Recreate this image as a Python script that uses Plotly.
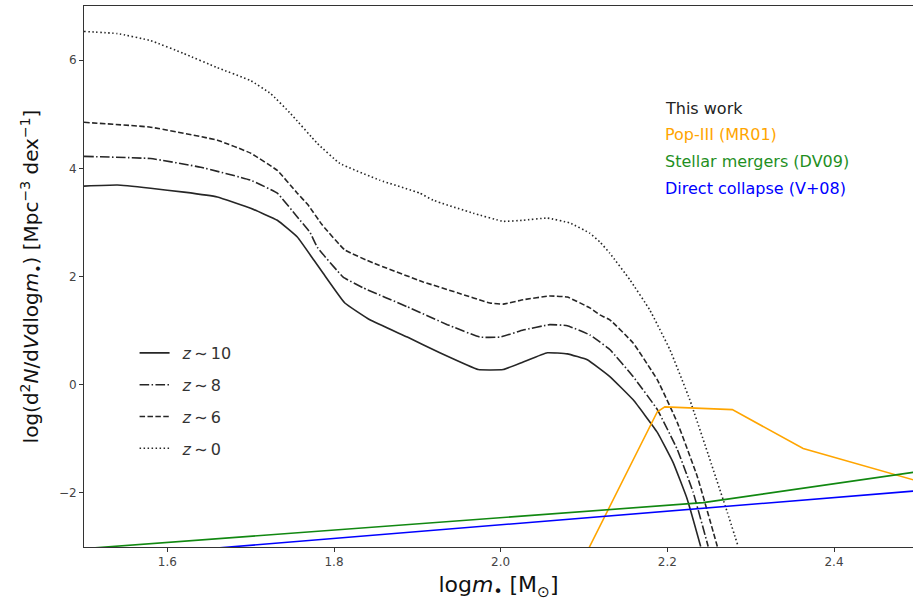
import plotly.graph_objects as go

# Mass function of the remnant population at several redshifts (this work)
x_z10 = [1.500, 1.540, 1.580, 1.620, 1.660, 1.700, 1.732, 1.756, 1.776, 1.787,
         1.813, 1.843, 1.888, 1.927, 1.973, 2.003, 2.027, 2.056, 2.080, 2.104,
         2.131, 2.159, 2.188, 2.207, 2.224, 2.240]
y_z10 = [3.67, 3.69, 3.63, 3.56, 3.47, 3.26, 3.04, 2.73, 2.30, 2.06,
         1.51, 1.20, 0.88, 0.59, 0.28, 0.28, 0.42, 0.59, 0.57, 0.46,
         0.15, -0.28, -0.88, -1.44, -2.12, -2.99]

x_z8 = [1.500, 1.580, 1.640, 1.700, 1.732, 1.756, 1.771, 1.780, 1.811, 1.835,
        1.888, 1.936, 1.975, 1.999, 2.027, 2.059, 2.080, 2.107, 2.119, 2.131,
        2.159, 2.188, 2.212, 2.231, 2.249]
y_z8 = [4.22, 4.18, 4.02, 3.78, 3.54, 3.10, 2.82, 2.54, 1.99, 1.79,
        1.44, 1.11, 0.88, 0.88, 1.01, 1.11, 1.09, 0.92, 0.79, 0.65,
        0.15, -0.46, -1.20, -1.99, -2.99]

x_z6 = [1.500, 1.580, 1.660, 1.700, 1.732, 1.756, 1.769, 1.786, 1.813,
        1.847, 1.907, 1.948, 1.987, 2.003, 2.027, 2.059, 2.080, 2.107, 2.119,
        2.131, 2.159, 2.188, 2.212, 2.236, 2.260]
y_z6 = [4.85, 4.76, 4.52, 4.28, 3.96, 3.54, 3.32, 2.95, 2.49,
        2.25, 1.90, 1.70, 1.51, 1.49, 1.57, 1.64, 1.62, 1.42, 1.29,
        1.20, 0.77, 0.09, -0.70, -1.70, -2.99]

x_z0 = [1.500, 1.540, 1.580, 1.620, 1.660, 1.700, 1.724, 1.748, 1.780, 1.807,
        1.855, 1.903, 1.919, 1.967, 2.003, 2.027, 2.056, 2.083, 2.107, 2.119,
        2.131, 2.155, 2.179, 2.203, 2.227, 2.251, 2.272, 2.285]
y_z0 = [6.53, 6.49, 6.36, 6.12, 5.86, 5.62, 5.38, 5.01, 4.46, 4.09,
        3.78, 3.54, 3.41, 3.17, 3.02, 3.04, 3.08, 2.99, 2.80, 2.64,
        2.43, 1.94, 1.38, 0.65, -0.28, -1.38, -2.36, -2.99]

# Literature models
x_pop3 = [2.100, 2.188, 2.197, 2.278, 2.363, 2.500]
y_pop3 = [-3.20, -0.50, -0.41, -0.46, -1.18, -1.78]

x_merg = [1.500, 2.107, 2.243, 2.500]
y_merg = [-3.03, -2.34, -2.18, -1.61]

x_dcbh = [1.500, 2.107, 2.500]
y_dcbh = [-3.22, -2.45, -1.96]

redshift_labels = ["\u2002<i>z</i>\u2009\u223c\u200910", "\u2002<i>z</i>\u2009\u223c\u20098",
                   "\u2002<i>z</i>\u2009\u223c\u20096", "\u2002<i>z</i>\u2009\u223c\u20090"]
model_labels = ["This work", "Pop-III (MR01)", "Stellar mergers (DV09)",
                "Direct collapse (V+08)"]
model_colors = ["#222222", "#FFA500", "#1f8f1f", "#0000FF"]

x_ticks = [1.6, 1.8, 2.0, 2.2, 2.4]
y_ticks = [-2, 0, 2, 4, 6]

INK = "#262626"
dashes = ["solid", "9.6px,2.4px,1.5px,2.4px", "5.5px,2.4px", "1.5px,2.5px"]
curves = [(x_z10, y_z10), (x_z8, y_z8), (x_z6, y_z6), (x_z0, y_z0)]

fig = go.Figure()
for i, ((xs, ys), lab, dash) in enumerate(zip(curves, redshift_labels, dashes)):
    fig.add_trace(go.Scatter(
        x=xs, y=ys, mode="lines", name=lab, legendgroup=f"g{i}",
        line=dict(color=INK, width=1.6, dash=dash, shape="spline", smoothing=0.3),
    ))

for xs, ys, col in [(x_pop3, y_pop3, model_colors[1]),
                    (x_merg, y_merg, "#118811"),
                    (x_dcbh, y_dcbh, model_colors[3])]:
    fig.add_trace(go.Scatter(x=xs, y=ys, mode="lines", showlegend=False,
                             line=dict(color=col, width=1.6)))

# Colour key for the models, written as text in the upper right
key_y = [0.811, 0.763, 0.712, 0.662]
for lab, col, yy in zip(model_labels, model_colors, key_y):
    fig.add_annotation(text=lab, x=0.699, y=yy, xref="paper", yref="paper",
                       xanchor="left", yanchor="middle", showarrow=False,
                       font=dict(size=16, color=col))

axis_font = dict(family="DejaVu Sans", size=12, color="#444444")
fig.update_xaxes(
    range=[1.5, 2.4948], tickvals=x_ticks, ticktext=[f"{v:.1f}" for v in x_ticks],
    showgrid=False, zeroline=False, showline=True, linecolor="#333333",
    linewidth=1, mirror=True, ticks="outside", ticklen=4, tickcolor="#333333",
    tickfont=axis_font,
    title=dict(text="log<i>m</i><sub>\u2022</sub> [M<sub>\u2299</sub>]",
               font=dict(size=22, color="#111111"), standoff=8),
)
fig.update_yaxes(
    range=[-3, 7], tickvals=y_ticks, ticktext=[f"\u2212{abs(v)}" if v < 0 else str(v) for v in y_ticks],
    showgrid=False, zeroline=False, showline=True, linecolor="#333333",
    linewidth=1, ticks="outside", ticklen=4, tickcolor="#333333",
    tickfont=axis_font,
    title=dict(text="log(d<sup>2</sup><i>N</i>/d<i>V</i>dlog<i>m</i><sub>\u2022</sub>) [Mpc<sup>\u22123</sup> dex<sup>\u22121</sup>]",
               font=dict(size=20, color="#111111"), standoff=14),
)

fig.update_layout(
    width=913, height=604,
    margin=dict(l=84, r=0, t=6, b=57),
    paper_bgcolor="white", plot_bgcolor="white",
    font=dict(family="DejaVu Sans", color="#333333"),
    legend=dict(x=0.061, y=0.39, xanchor="left", yanchor="top",
                bgcolor="rgba(0,0,0,0)", font=dict(size=16, color="#333333"),
                tracegroupgap=8, itemwidth=30),
)

fig.write_html("out.html")
